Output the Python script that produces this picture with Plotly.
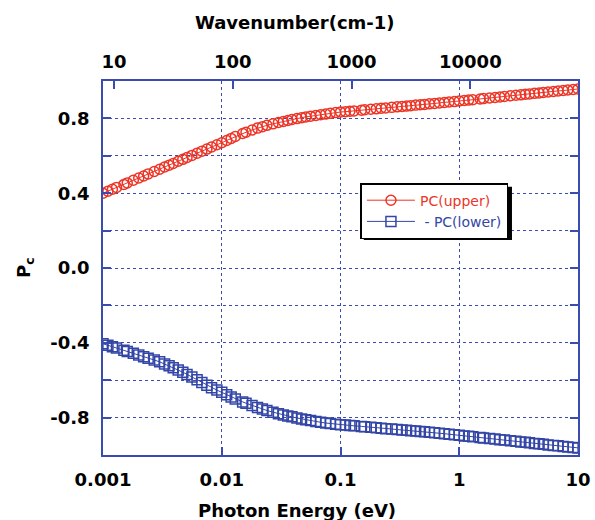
import math
import plotly.graph_objects as go

# Photon energy (eV), E24-spaced samples over 0.001 .. 10 eV
energy_eV = [
    0.0010, 0.0011, 0.0012, 0.0013, 0.0015, 0.0016, 0.0018, 0.0020, 0.0022, 0.0024, 0.0027, 0.0030,
    0.0033, 0.0036, 0.0039, 0.0043, 0.0047, 0.0051, 0.0056, 0.0062, 0.0068, 0.0075, 0.0082, 0.0091,
    0.010, 0.011, 0.012, 0.013, 0.015, 0.016, 0.018, 0.020, 0.022, 0.024, 0.027, 0.030,
    0.033, 0.036, 0.039, 0.043, 0.047, 0.051, 0.056, 0.062, 0.068, 0.075, 0.082, 0.091,
    0.10, 0.11, 0.12, 0.13, 0.15, 0.16, 0.18, 0.20, 0.22, 0.24, 0.27, 0.30,
    0.33, 0.36, 0.39, 0.43, 0.47, 0.51, 0.56, 0.62, 0.68, 0.75, 0.82, 0.91,
    1.0, 1.1, 1.2, 1.3, 1.5, 1.6, 1.8, 2.0, 2.2, 2.4, 2.7, 3.0,
    3.3, 3.6, 3.9, 4.3, 4.7, 5.1, 5.6, 6.2, 6.8, 7.5, 8.2, 9.1,
    10.0,
]

pc_upper = [
    0.400, 0.411, 0.421, 0.431, 0.447, 0.455, 0.469, 0.481, 0.492, 0.503, 0.516, 0.528,
    0.540, 0.550, 0.559, 0.571, 0.581, 0.591, 0.602, 0.614, 0.625, 0.636, 0.647, 0.659,
    0.670, 0.682, 0.693, 0.703, 0.719, 0.726, 0.738, 0.748, 0.756, 0.763, 0.771, 0.778,
    0.784, 0.789, 0.794, 0.799, 0.804, 0.808, 0.812, 0.816, 0.820, 0.823, 0.827, 0.831,
    0.834, 0.836, 0.838, 0.840, 0.844, 0.846, 0.849, 0.851, 0.854, 0.856, 0.859, 0.862,
    0.864, 0.866, 0.868, 0.871, 0.873, 0.875, 0.878, 0.880, 0.883, 0.885, 0.888, 0.890,
    0.893, 0.896, 0.898, 0.900, 0.904, 0.906, 0.909, 0.912, 0.915, 0.917, 0.921, 0.924,
    0.926, 0.929, 0.931, 0.934, 0.936, 0.939, 0.941, 0.944, 0.947, 0.949, 0.952, 0.955,
    0.957,
]

pc_lower = [
    -0.405, -0.413, -0.421, -0.428, -0.440, -0.446, -0.456, -0.465, -0.474, -0.482, -0.492, -0.502,
    -0.513, -0.523, -0.533, -0.545, -0.557, -0.569, -0.583, -0.598, -0.612, -0.627, -0.640, -0.653,
    -0.665, -0.678, -0.690, -0.700, -0.716, -0.723, -0.735, -0.746, -0.754, -0.762, -0.771, -0.779,
    -0.786, -0.791, -0.796, -0.802, -0.807, -0.811, -0.816, -0.821, -0.825, -0.829, -0.832, -0.835,
    -0.838, -0.840, -0.842, -0.844, -0.847, -0.849, -0.852, -0.854, -0.857, -0.859, -0.861, -0.864,
    -0.866, -0.868, -0.870, -0.872, -0.874, -0.876, -0.879, -0.881, -0.884, -0.886, -0.889, -0.892,
    -0.895, -0.898, -0.900, -0.903, -0.907, -0.909, -0.912, -0.915, -0.918, -0.920, -0.924, -0.927,
    -0.930, -0.932, -0.935, -0.938, -0.940, -0.943, -0.946, -0.949, -0.951, -0.954, -0.957, -0.960,
    -0.962,
]

energy_ticks = [0.001, 0.01, 0.1, 1, 10]
energy_ticktext = ["0.001", "0.01", "0.1", "1", "10"]
wavenumber_ticks = [10, 100, 1000, 10000]
wavenumber_ticktext = ["10", "100", "1000", "10000"]
pc_ticks = [-1.0, -0.8, -0.6, -0.4, -0.2, 0.0, 0.2, 0.4, 0.6, 0.8, 1.0]
pc_ticktext = ["", "-0.8", "", "-0.4", "", "0.0", "", "0.4", "", "0.8", ""]

EV_TO_CM = 8065.54

RED = "#ec3526"
BLUE = "#3346a6"
AXIS = "#3b4cb0"
FONT = "DejaVu Sans"
TICKFONT = dict(family=FONT, size=18, color="black", weight="bold")

fig = go.Figure()

fig.add_trace(go.Scatter(
    x=energy_eV, y=pc_upper, mode="lines+markers",
    name="<span style='color:%s'>PC(upper)</span>" % RED,
    line=dict(color=RED, width=1),
    marker=dict(symbol="circle-open", size=10, color=RED, line=dict(width=1.5, color=RED)),
))
fig.add_trace(go.Scatter(
    x=energy_eV, y=pc_lower, mode="lines+markers",
    name="<span style='color:%s'> - PC(lower)</span>" % BLUE,
    line=dict(color=BLUE, width=1),
    marker=dict(symbol="square-open", size=10, color=BLUE, line=dict(width=1.5, color=BLUE)),
))
# invisible trace to anchor the top (wavenumber) axis
fig.add_trace(go.Scatter(
    x=[wavenumber_ticks[0], wavenumber_ticks[-1]], y=[0, 0], xaxis="x2",
    mode="markers", marker=dict(opacity=0), showlegend=False, hoverinfo="skip",
))

fig.update_layout(
    width=595, height=520,
    margin=dict(l=103, r=17, t=81, b=65),
    paper_bgcolor="white", plot_bgcolor="white",
    font=dict(family=FONT, size=18, color="black", weight="bold"),
    showlegend=True,
    legend=dict(
        x=0.542, y=0.727, xanchor="left", yanchor="top",
        bgcolor="white", bordercolor="black", borderwidth=1.5,
        font=dict(family="DejaVu Sans", size=14, weight="normal"),
        itemwidth=48, tracegroupgap=0,
    ),
    xaxis=dict(
        type="log", range=[-3, 1], automargin=False,
        tickvals=energy_ticks, ticktext=energy_ticktext,
        ticks="inside", ticklen=8, tickwidth=1.5, tickcolor=AXIS,
        showline=True, linecolor=AXIS, linewidth=1.5, mirror=True,
        showgrid=True, gridcolor=AXIS, griddash="dot", gridwidth=1,
        zeroline=False, ticklabelstandoff=8, tickfont=TICKFONT,
    ),
    xaxis2=dict(
        type="log", overlaying="x", side="top", automargin=False,
        range=[math.log10(EV_TO_CM * 0.001), math.log10(EV_TO_CM * 10)],
        tickvals=wavenumber_ticks, ticktext=wavenumber_ticktext,
        ticks="inside", ticklen=8, tickwidth=1.5, tickcolor=AXIS,
        showline=False, showgrid=False, zeroline=False, ticklabelstandoff=8,
        tickfont=TICKFONT,
    ),
    yaxis=dict(
        range=[-1, 1], automargin=False,
        tickvals=pc_ticks, ticktext=pc_ticktext,
        ticks="inside", ticklen=8, tickwidth=1.5, tickcolor=AXIS,
        showline=True, linecolor=AXIS, linewidth=1.5, mirror="ticks",
        showgrid=True, gridcolor=AXIS, griddash="dot", gridwidth=1,
        zeroline=False, ticklabelstandoff=8, tickfont=TICKFONT,
    ),
    annotations=[
        dict(text="Wavenumber(cm-1)", xref="paper", yref="paper", x=0.404, y=1.0,
             yshift=59, xanchor="center", yanchor="middle", showarrow=False,
             font=dict(family=FONT, size=18, color="black", weight="bold")),
        dict(text="Photon Energy (eV)", xref="paper", yref="paper", x=0.408, y=0.0,
             yshift=-55, xanchor="center", yanchor="middle", showarrow=False,
             font=dict(family=FONT, size=18, color="black", weight="bold")),
        dict(text="P<sub>c</sub>", xref="paper", yref="paper", x=0.0, y=0.5,
             xshift=-78, xanchor="center", yanchor="middle", showarrow=False, textangle=-90,
             font=dict(family=FONT, size=18, color="black", weight="bold")),
    ],
    shapes=[
        dict(type="rect", xref="paper", yref="paper", layer="above",
             x0=0.549, x1=0.861, y0=0.575, y1=0.717,
             fillcolor="black", line=dict(width=0)),
    ],
)

fig.write_html("out.html")
